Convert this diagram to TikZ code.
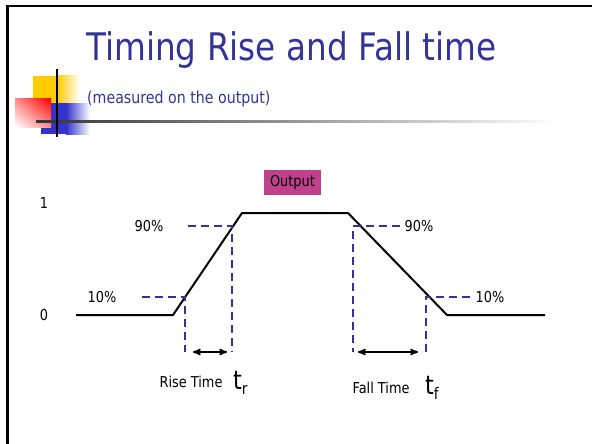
\documentclass[tikz,border=0pt]{standalone}
\usepackage{fontspec}
\setmainfont[FakeStretch=0.86]{DejaVu Sans}
\usetikzlibrary{arrows,shadings}
\definecolor{slideblue}{RGB}{51,51,153}
\definecolor{tagpink}{RGB}{192,64,140}
\definecolor{sqyellow}{RGB}{255,204,0}
\definecolor{sqblue}{RGB}{51,51,204}
\tikzstyle{lbl}=[inner sep=0pt,font=\fontsize{15}{17}\selectfont]
\tikzstyle{wave}=[draw,line width=2pt,black,line join=miter]
\tikzstyle{lvl}=[draw,line width=2pt,slideblue,dash pattern=on 8pt off 5pt]
\tikzstyle{arr}=[<->,>=stealth',draw,line width=1.6pt]
\tikzstyle{tag}=[fill=tagpink,minimum width=57pt,minimum height=25pt,inner sep=0pt,font=\fontsize{15}{17}\selectfont]

\begin{document}
\begin{tikzpicture}[x=1pt,y=-1pt]
    \useasboundingbox (0,0) rectangle (592,444);
    % slide frame and logo
    \draw[line width=2.5pt] (7.5,444) -- (7.5,6) -- (592,6);
    \fill[sqyellow] (33,76) rectangle (57,104);
    \shade[left color=sqyellow,right color=white] (57,76) rectangle (80,104);
    \fill[sqblue] (41,103) rectangle (66,134);
    \shade[left color=sqblue,right color=white] (66,103) rectangle (90,134);
    \shade[upper right=red,upper left=red!45,lower right=red!45,lower left=white] (15,99) rectangle (51,127);
    \shade[left color=black!80,right color=white] (36,120) rectangle (560,122.5);
    \draw[line width=2pt] (57,69) -- (57,137);
    \node[anchor=base west,inner sep=0pt,slideblue,font=\fontsize{38}{40}\selectfont] (title) at (86,61) {Timing Rise and Fall time};
    \node[anchor=base west,inner sep=0pt,slideblue,font=\fontsize{16.5}{18}\selectfont] (sub) at (87,103) {(measured on the output)};

    % waveform
    \coordinate (lo1) at (76,315);
    \coordinate (r0) at (173,315);
    \coordinate (r1) at (242,213);
    \coordinate (f0) at (348,213);
    \coordinate (f1) at (447,315);
    \coordinate (lo2) at (545,315);
    \draw[wave] (lo1) -- (r0) -- (r1) -- (f0) -- (f1) -- (lo2);
    \node[tag] (out) at (292.5,182.5) {Output};
    \node[lbl] (one) at (44,203) {1};
    \node[lbl] (zero) at (44,315) {0};

    % 10% and 90% levels
    \coordinate (r10l) at (142,297);
    \coordinate (r10) at (185,297);
    \coordinate (r10b) at (185,352);
    \coordinate (r90l) at (188,226);
    \coordinate (r90) at (232,226);
    \coordinate (r90b) at (232,352);
    \coordinate (f90r) at (400,226);
    \coordinate (f90) at (353,226);
    \coordinate (f90b) at (353,352);
    \coordinate (f10r) at (470,297);
    \coordinate (f10) at (426,297);
    \coordinate (f10b) at (426,352);
    \draw[lvl] (r10l) -- (r10) -- (r10b);
    \draw[lvl] (r90l) -- (r90) -- (r90b);
    \draw[lvl] (f90r) -- (f90) -- (f90b);
    \draw[lvl] (f10r) -- (f10) -- (f10b);
    \node[lbl] (p10a) at (102,297) {10\%};
    \node[lbl] (p90a) at (149,226) {90\%};
    \node[lbl] (p90b) at (419,226) {90\%};
    \node[lbl] (p10b) at (490,297) {10\%};

    % rise and fall spans
    \coordinate (ra) at (193,352);
    \coordinate (rb) at (227,352);
    \coordinate (fa) at (358,352);
    \coordinate (fb) at (418,352);
    \draw[arr] (ra) -- (rb);
    \draw[arr] (fa) -- (fb);
    \node[lbl] (rise) at (191,382) {Rise Time};
    \node[anchor=west,inner sep=0pt,font=\fontsize{26}{28}\selectfont] (tr) at (233,383) {t\raisebox{-5pt}{\fontsize{16}{18}\selectfont r}};
    \node[lbl] (fall) at (381,388) {Fall Time};
    \node[anchor=west,inner sep=0pt,font=\fontsize{26}{28}\selectfont] (tf) at (425,388) {t\raisebox{-5pt}{\fontsize{16}{18}\selectfont f}};
\end{tikzpicture}
\end{document}
